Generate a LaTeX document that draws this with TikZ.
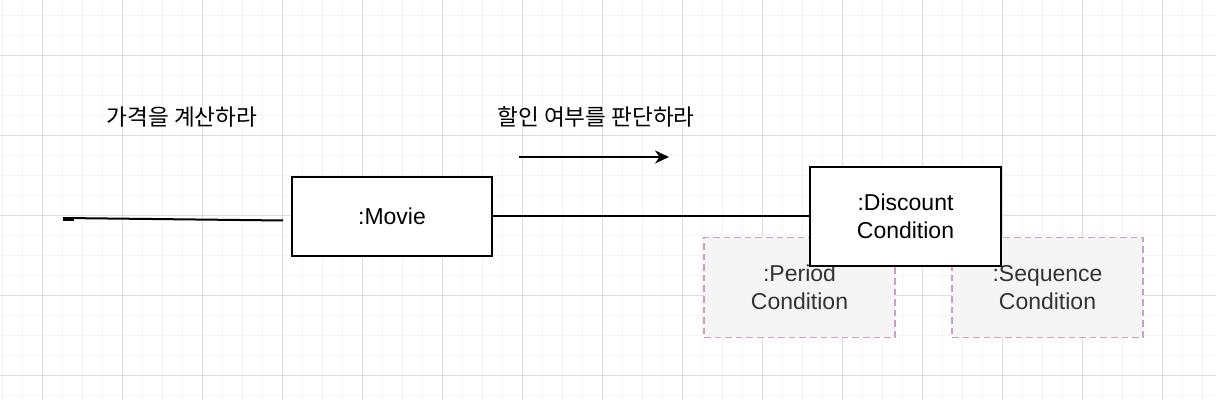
\documentclass[tikz,border=0pt]{standalone}
\usepackage{fontspec}
\setmainfont{Liberation Sans}
\newfontfamily\kr{Noto Sans CJK KR}
\usetikzlibrary{arrows.meta,positioning}

\definecolor{gridminor}{RGB}{244,244,244}
\definecolor{gridmajor}{RGB}{222,222,222}
\definecolor{subline}{RGB}{200,160,195}
\definecolor{subfill}{RGB}{245,245,245}
\definecolor{subtext}{RGB}{51,51,51}

\begin{document}
\begin{tikzpicture}[x=0.5pt,y=-0.5pt,>={Stealth[length=7pt,width=6.5pt]},
    obj/.style={draw,line width=1pt,fill=white,align=center,font=\fontsize{11.5}{13.8}\selectfont},
    sub/.style={draw=subline,dash pattern=on 3.3pt off 2pt,line width=0.8pt,fill=subfill,
                text=subtext,align=center,minimum width=95.5pt,minimum height=50pt,
                font=\fontsize{11.5}{13.8}\selectfont},
    msg/.style={font=\kr\fontsize{11.3}{13}\selectfont}]

                \useasboundingbox (0,0) rectangle (1216,400);
                \fill[white] (0,0) rectangle (1216,400);

                % grid
                \foreach \x in {2.5,22.5,...,1216} \draw[gridminor,line width=0.5pt] (\x,0) -- (\x,400);
                \foreach \y in {16,36,...,400} \draw[gridminor,line width=0.5pt] (0,\y) -- (1216,\y);
                \foreach \x in {42.5,122.5,...,1216} \draw[gridmajor,line width=0.5pt] (\x,0) -- (\x,400);
                \foreach \y in {56,136,...,400} \draw[gridmajor,line width=0.5pt] (0,\y) -- (1216,\y);

                \node[sub] (period) at (799.5,287.5) {:Period\\Condition};
                \node[sub] (sequence) at (1047.5,287.5) {:Sequence\\Condition};

                \node[obj,minimum width=100pt,minimum height=39.5pt] (movie) at (392,216.5) {:Movie};
                \node[obj,minimum width=95.5pt,minimum height=49.5pt] (discount) at (905.5,216.5) {:Discount\\Condition};

                \node[msg] (price) at (182,117) {가격을 계산하라};
                \node[msg] (check) at (596,117) {할인 여부를 판단하라};

                \coordinate (in0) at (63,218);
                \coordinate (in1) at (283,220.5);
                \coordinate (a0) at (519,157);
                \coordinate (a1) at (669,157);

                \draw[line width=1pt] (in0) -- (in1);
                \draw[line width=1pt] (in0) ++(0,2) -- ++(11,0);
                \draw[line width=1pt] (movie.east) -- (discount.west);
                \draw[->,line width=1pt] (a0) -- (a1);

            \end{tikzpicture}
\end{document}
